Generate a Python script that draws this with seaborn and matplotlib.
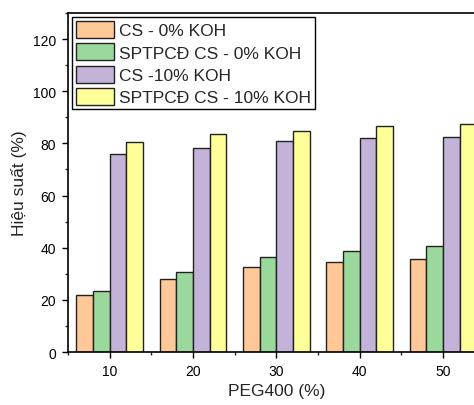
import matplotlib
matplotlib.use('Agg')
from matplotlib import pyplot as plt
from matplotlib.ticker import MultipleLocator
import pandas as pd
import seaborn as sns

peg = [10, 20, 30, 40, 50]
series = ['CS - 0% KOH', 'SPTPCĐ CS - 0% KOH', 'CS -10% KOH', 'SPTPCĐ CS - 10% KOH']
cs_0 = [21.7, 28.1, 32.7, 34.4, 35.6]
sptpcd_0 = [23.3, 30.6, 36.3, 38.7, 40.8]
cs_10 = [75.9, 78.3, 80.9, 82.2, 82.6]
sptpcd_10 = [80.6, 83.5, 84.7, 86.8, 87.3]
colors = ['#FFC896', '#9BD89B', '#C3B3D8', '#FFFF99']

# bang du lieu dang dai cho seaborn
rows = []
for name, vals in zip(series, [cs_0, sptpcd_0, cs_10, sptpcd_10]):
    for p, v in zip(peg, vals):
        rows.append({'PEG400': p, 'value': v, 'series': name})
df = pd.DataFrame(rows)

sns.set_style('ticks')
plt.rcParams['font.family'] = ['Liberation Sans', 'DejaVu Sans']

fig = plt.figure(figsize=(4.74, 4.06), dpi=100)
# truc keo dai qua mep phai cua hinh (anh goc bi cat)
ax = fig.add_axes([0.1435, 0.1305, 0.8787, 0.835])

sns.barplot(data=df, x='PEG400', y='value', hue='series', hue_order=series,
            palette=colors, native_scale=True, width=0.8, gap=0,
            saturation=1, edgecolor='#222222', linewidth=1, errorbar=None, ax=ax)

ax.set_xlim(5, 55)
ax.set_ylim(0, 130)
ax.xaxis.set_major_locator(MultipleLocator(10))
ax.xaxis.set_minor_locator(MultipleLocator(5))
ax.set_yticks([0, 20, 40, 60, 80, 100, 120])
ax.yaxis.set_minor_locator(MultipleLocator(10))
ax.tick_params(which='major', direction='out', length=4.5, width=1, labelsize=10,
               colors='black', pad=4)
ax.tick_params(which='minor', direction='out', length=2.5, width=1)
for s in ax.spines.values():
    s.set_visible(True)
    s.set_linewidth(1.2)
    s.set_color('black')

ax.set_xlabel('PEG400 (%)', fontsize=12.5)
ax.set_ylabel('Hiệu suất (%)', fontsize=12.5)

leg = ax.legend(loc='upper left', fontsize=12.5, frameon=True, fancybox=False,
                edgecolor='black', handlelength=2.2, handleheight=1.15,
                handletextpad=0.3, labelspacing=0.28, borderpad=0.2,
                borderaxespad=0.25)
leg.get_frame().set_linewidth(1)
leg.get_frame().set_alpha(1)

fig.savefig('out.png', dpi=100)
